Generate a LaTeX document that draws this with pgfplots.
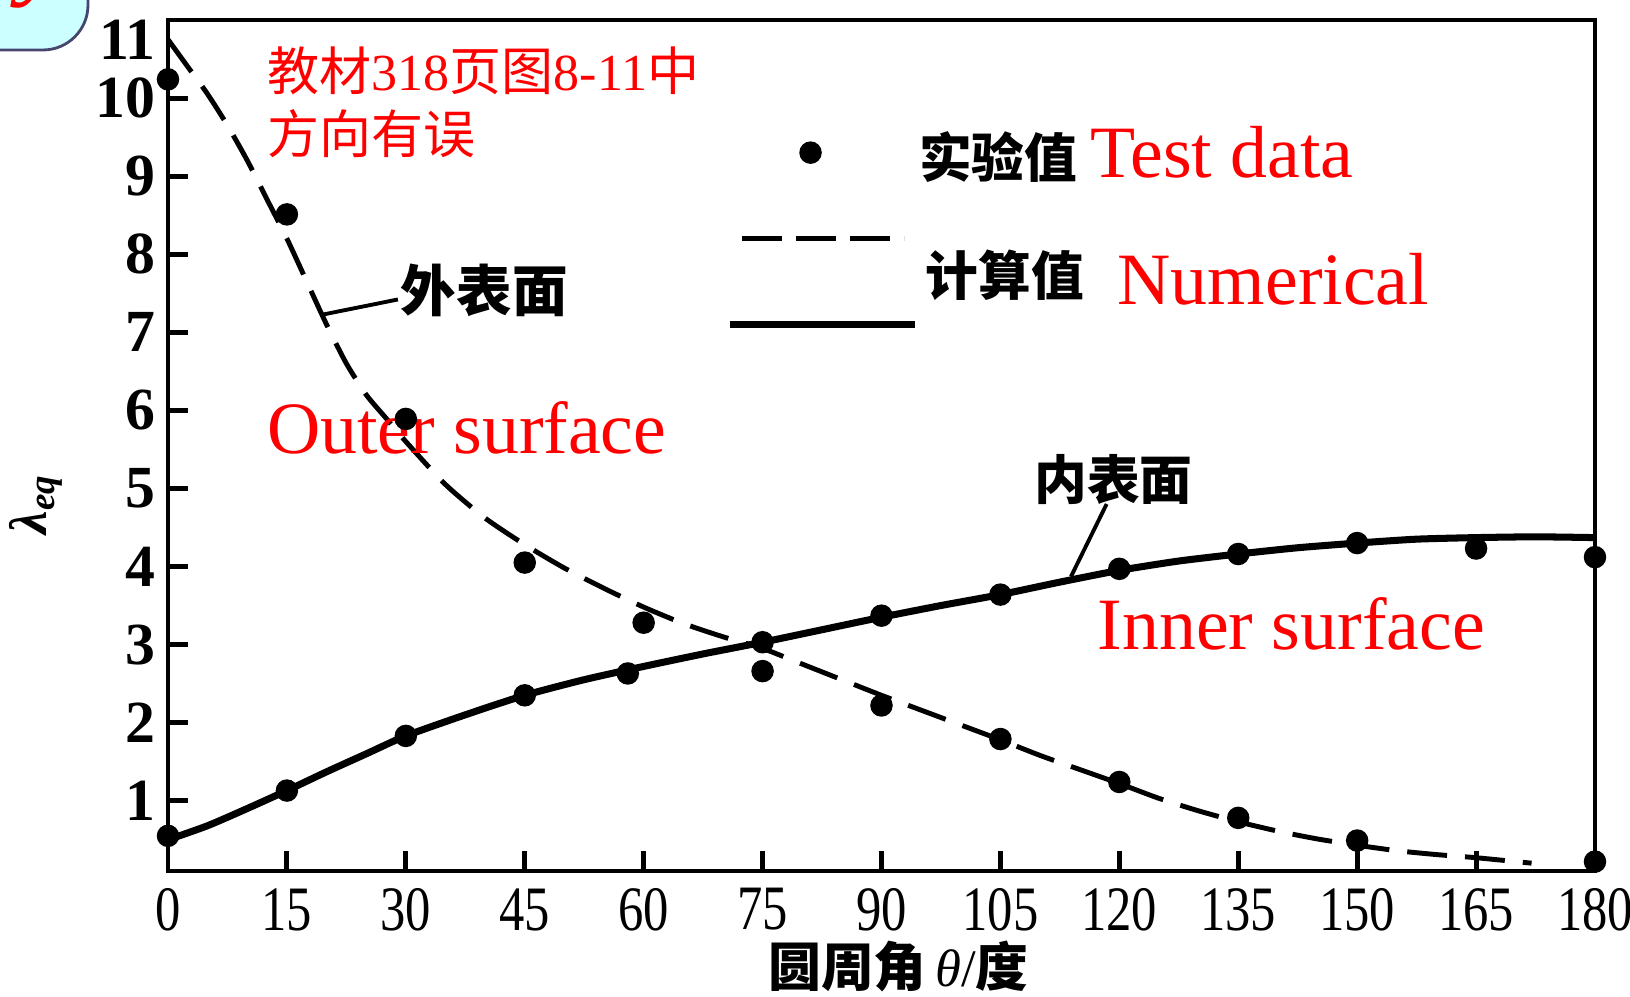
\documentclass[border=0pt]{standalone}
\usepackage{fontspec}
\setmainfont{Liberation Serif}
\newfontfamily\cjk{Noto Sans CJK SC}
\usepackage{pgfplots}
\pgfplotsset{compat=1.18}
\definecolor{boxfill}{RGB}{204,255,255}
\definecolor{boxline}{RGB}{70,70,110}
\pgfplotsset{
  legdot/.style={legend image code/.code={\draw[##1] plot coordinates {(0.81cm,0cm)};}},
  legdash/.style={legend image code/.code={\draw[##1] (0.12cm,0cm) -- (1.74cm,0cm);}},
  legsolid/.style={legend image code/.code={\draw[##1] (0cm,0cm) -- (1.85cm,0cm);}},
}

\begin{document}
\begin{tikzpicture}
\useasboundingbox (-1.68,-1.26) rectangle (14.62,8.71);
\draw[boxline, fill=boxfill, line width=0.8pt, rounded corners=0.45cm] (-2.6,10) rectangle (-0.80,8.21);
\node[red, anchor=base, font=\itshape\fontsize{30}{30}\selectfont] at (-1.25,8.85) {y};
\begin{axis}[
  at={(0,0)}, anchor=south west, scale only axis,
  width=14.27cm, height=8.51cm,
  xmin=0, xmax=180, ymin=0.1, ymax=11,
  xtick={0,15,...,180}, ytick={1,2,...,10},
  extra y ticks={10.75}, extra y tick labels={11},
  extra y tick style={major tick length=0pt},
  tick pos=left, tick align=inside, major tick length=2mm,
  axis line style={line width=1.4pt},
  every tick/.style={black, line width=1.4pt},
  /pgf/number format/assume math mode=true,
  xticklabel={\scalebox{0.8}[1]{\pgfmathprintnumber{\tick}}},
  x tick label style={font=\fontsize{18}{18}\selectfont, yshift=-0.5mm},
  y tick label style={font=\bfseries\fontsize{17}{17}\selectfont},
  xlabel={{\cjk\bfseries 圆周角}\,\textit{θ}/{\cjk\bfseries 度}},
  xlabel style={at={(axis description cs:0.512,-0.112)}, anchor=center, font=\fontsize{15}{15}\selectfont},
  ylabel={{\bfseries\itshape λ}\textsubscript{\bfseries\itshape eq}},
  ylabel style={at={(axis description cs:-0.0925,0.431)}, anchor=center, font=\fontsize{15}{15}\selectfont},
  clip=false,
  legend cell align=left,
  legend style={at={(axis cs:70.3,9.63)}, anchor=north west, draw=none, fill=none,
    inner xsep=0pt, inner ysep=0pt, row sep=3.6mm, column sep=0.1mm,
    nodes={inner sep=0pt, text depth=0pt, text height=5mm, font=\fontsize{15}{15}\selectfont}},
]
\addlegendimage{black, mark=*, mark size=3pt, only marks, legdot}
\addlegendimage{black, line width=1.4pt, dash pattern=on 4mm off 1.4mm, legdash}
\addlegendimage{black, line width=2pt, legsolid}

% outer surface, numerical (dashed)
\addplot[black, line width=1.4pt, dash pattern=on 4mm off 1.8mm, smooth, tension=0.4] coordinates {
(0,10.75) (2.5,10.4) (5,10.05) (7.5,9.65) (10,9.2) (12.5,8.7) (15,8.2) (17.5,7.65)
(20,7.1) (22.5,6.6) (25,6.2) (27.5,5.9) (30,5.6) (35,5.05) (40,4.62) (45,4.28)
(50,3.98) (55,3.72) (60,3.48) (65,3.27) (70,3.1) (75,2.95) (80,2.75) (85,2.55)
(90,2.35) (95,2.16) (100,1.97) (105,1.78) (110,1.58) (115,1.4) (120,1.22) (125,1.03)
(130,0.87) (135,0.73) (140,0.61) (145,0.51) (150,0.43) (155,0.36) (160,0.31) (165,0.27) (172,0.2)};
% inner surface, numerical (solid)
\addplot[black, line width=2pt, smooth, tension=0.4] coordinates {
(0,0.5) (5,0.68) (10,0.9) (15,1.13) (20,1.37) (25,1.6) (30,1.83) (37.5,2.1) (45,2.35)
(52.5,2.55) (60,2.72) (67.5,2.88) (75,3.03) (82.5,3.19) (90,3.35) (97.5,3.5) (105,3.64)
(112.5,3.8) (120,3.95) (127.5,4.07) (135,4.16) (142.5,4.24) (150,4.3) (157.5,4.35)
(165,4.37) (172.5,4.38) (180,4.37)};
% outer surface, test data
\addplot[black, only marks, mark=*, mark size=3pt] coordinates {
(0,10.24) (15,8.51) (30,5.89) (45,4.05) (60,3.28) (75,2.66) (90,2.22) (105,1.79)
(120,1.24) (135,0.78) (150,0.49) (180,0.22)};
% inner surface, test data
\addplot[black, only marks, mark=*, mark size=3pt] coordinates {
(0,0.55) (15,1.13) (30,1.83) (45,2.35) (58,2.63) (75,3.03) (90,3.37) (105,3.64)
(120,3.97) (135,4.16) (150,4.30) (165,4.23) (180,4.12)};

\legend{{\cjk\bfseries 实验值} {\color{red}\fontsize{21}{21}\selectfont Test data},\mbox{},\mbox{}}

% annotations
\node[anchor=west, red, font=\fontsize{14.8}{14.8}\selectfont, inner sep=0pt] at (axis cs:12.5,10.35) {{\cjk 教材}318{\cjk 页图}8-11{\cjk 中}};
\node[anchor=west, red, font=\fontsize{14.8}{14.8}\selectfont, inner sep=0pt] at (axis cs:12.5,9.55) {{\cjk 方向有误}};
\node[anchor=west, inner sep=0pt, font=\fontsize{15}{15}\selectfont] at (axis cs:95.5,7.73) {{\cjk\bfseries 计算值}};
\node[anchor=west, inner sep=0pt, red, font=\fontsize{21}{21}\selectfont] at (axis cs:119.7,7.68) {Numerical};
\node[anchor=west, inner sep=0pt, red, font=\fontsize{21}{21}\selectfont] at (axis cs:12.4,5.77) {Outer surface};
\node[anchor=west, inner sep=0pt, red, font=\fontsize{21}{21}\selectfont] at (axis cs:117.2,3.26) {Inner surface};
\node[anchor=west, inner sep=0pt, font=\fontsize{15.8}{15.8}\selectfont] at (axis cs:29.3,7.53) {{\cjk\bfseries 外表面}};
\node[anchor=west, inner sep=0pt, font=\fontsize{15}{15}\selectfont] at (axis cs:109.2,5.11) {{\cjk\bfseries 内表面}};
\draw[line width=1.1pt] (axis cs:19.2,7.22) -- (axis cs:29.0,7.42);
\draw[line width=1.1pt] (axis cs:118.4,4.80) -- (axis cs:113.9,3.87);
\end{axis}
\end{tikzpicture}
\end{document}
